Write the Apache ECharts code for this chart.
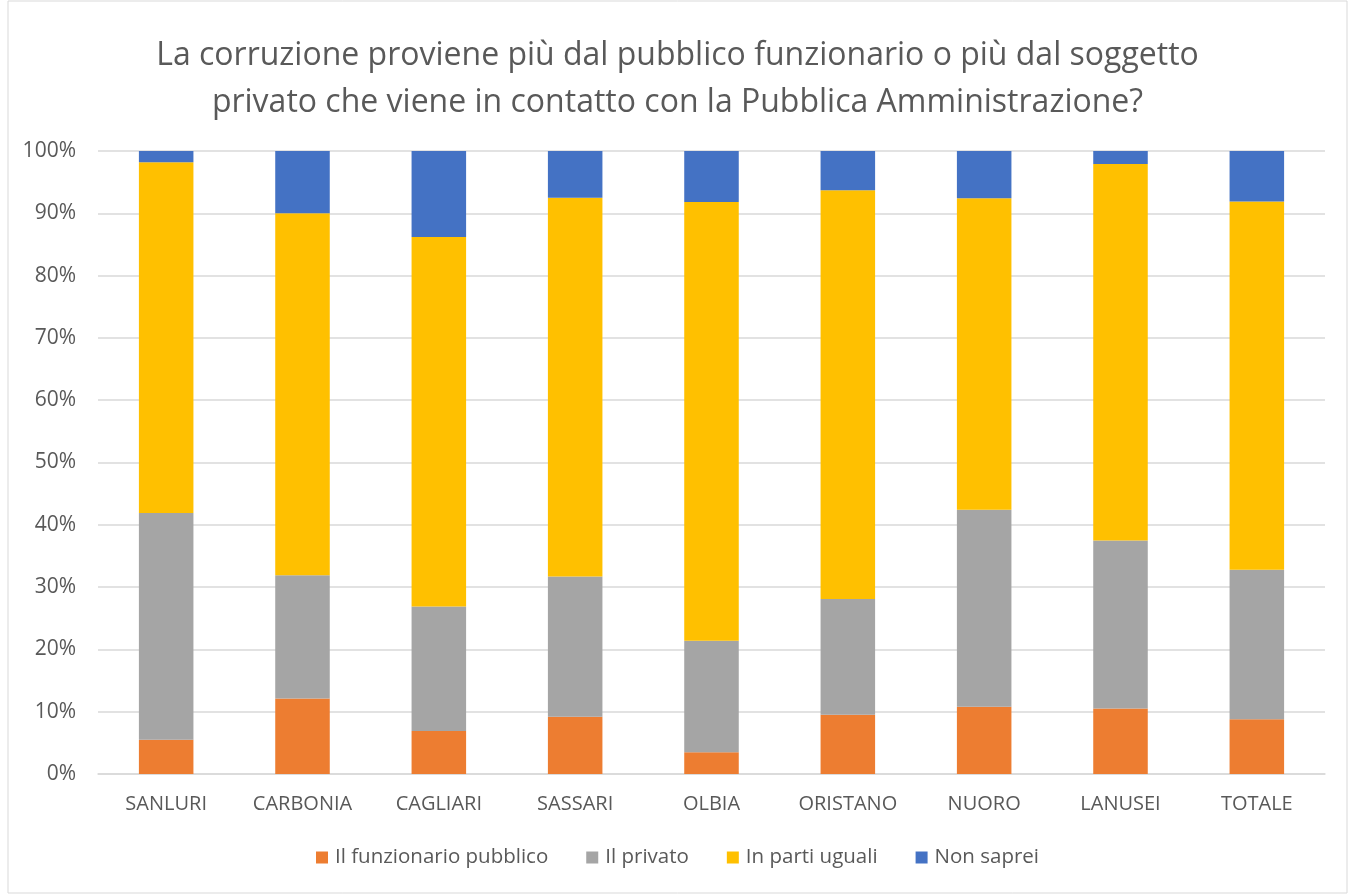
<!DOCTYPE html>
<html>
<head>
<meta charset="utf-8">
<script src="https://cdn.jsdelivr.net/npm/echarts@6/dist/echarts.min.js"></script>
<style>
  html, body { margin: 0; padding: 0; background: #ffffff; }
  #chart { width: 1355px; height: 895px; }
</style>
</head>
<body>
<div id="chart"></div>
<script>
const categories = ["SANLURI", "CARBONIA", "CAGLIARI", "SASSARI", "OLBIA", "ORISTANO", "NUORO", "LANUSEI", "TOTALE"];
const funzionario = [5.5, 12.1, 6.9, 9.2, 3.5, 9.5, 10.8, 10.5, 8.8];
const privato = [36.4, 19.8, 20.0, 22.5, 17.9, 18.6, 31.6, 27.0, 24.0];
const partiUguali = [56.3, 58.1, 59.3, 60.8, 70.4, 65.6, 50.0, 60.4, 59.1];
const nonSaprei = [1.8, 10.0, 13.8, 7.5, 8.2, 6.3, 7.6, 2.1, 8.1];

const chart = echarts.init(document.getElementById("chart"));
const font = "Open Sans, Noto Sans, sans-serif";

function barSeries(name, data, color) {
  return {
    name: name,
    type: "bar",
    stack: "tot",
    barWidth: "40%",
    data: data,
    itemStyle: { color: color },
    emphasis: { disabled: true }
  };
}

chart.setOption({
  animation: false,
  textStyle: { fontFamily: font },
  graphic: [{
    type: "rect",
    shape: { x: 8, y: 1, width: 1339, height: 892 },
    style: { fill: "none", stroke: "#d9d9d9", lineWidth: 1 },
    silent: true
  }],
  title: {
    text: "La corruzione proviene più dal pubblico funzionario o più dal soggetto\nprivato che viene in contatto con la Pubblica Amministrazione?",
    left: "center",
    top: 27,
    textStyle: { color: "#595959", fontSize: 32, fontWeight: "normal", lineHeight: 47, fontFamily: font }
  },
  legend: {
    bottom: 22,
    left: "center",
    itemWidth: 12,
    itemHeight: 12,
    itemGap: 38,
    icon: "rect",
    textStyle: { color: "#595959", fontSize: 20.5, fontFamily: font, padding: [0, 0, 0, 2] },
    data: ["Il funzionario pubblico", "Il privato", "In parti uguali", "Non saprei"]
  },
  grid: { left: 98, right: 30, top: 151, bottom: 121 },
  xAxis: {
    type: "category",
    data: categories,
    axisLine: { lineStyle: { color: "#d9d9d9", width: 1.5 } },
    axisTick: { show: false },
    axisLabel: { color: "#595959", fontSize: 20, margin: 20 }
  },
  yAxis: {
    type: "value",
    min: 0,
    max: 100,
    interval: 10,
    axisLine: { show: false },
    axisTick: { show: false },
    axisLabel: { color: "#595959", fontSize: 21, margin: 22, formatter: "{value}%" },
    splitLine: { lineStyle: { color: "#d9d9d9", width: 1.5 } }
  },
  series: [
    barSeries("Il funzionario pubblico", funzionario, "#ed7d31"),
    barSeries("Il privato", privato, "#a5a5a5"),
    barSeries("In parti uguali", partiUguali, "#ffc000"),
    barSeries("Non saprei", nonSaprei, "#4472c4")
  ]
});
</script>
</body>
</html>
